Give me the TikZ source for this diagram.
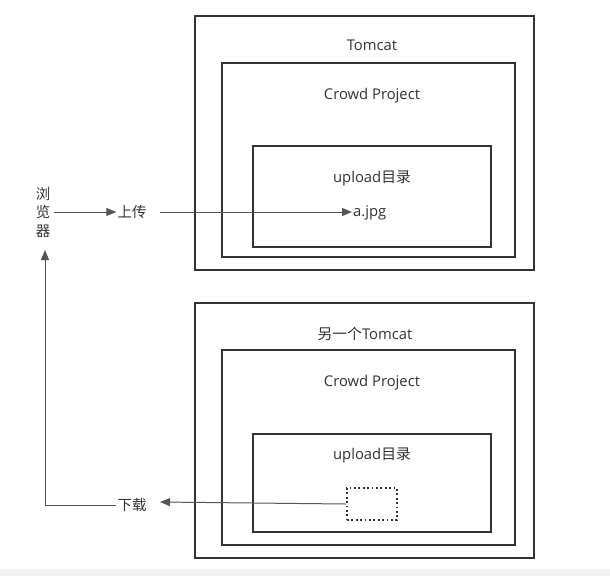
\documentclass[tikz,border=0pt]{standalone}
\usepackage{fontspec}
\setmainfont{Open Sans}
\newfontfamily\cjk{Noto Sans CJK SC}
\usetikzlibrary{arrows.meta}
\definecolor{boxc}{HTML}{333333}
\definecolor{linec}{HTML}{555555}
\definecolor{txtc}{HTML}{333333}
\definecolor{strip}{HTML}{F2F2F2}
\tikzset{
  frame/.style={draw=boxc, line width=1.6pt},
  lbl/.style={text=txtc, font=\fontsize{14.8}{16}\selectfont, inner sep=1pt},
  cjklbl/.style={lbl, font=\cjk\fontsize{14.5}{16}\selectfont},
  conn/.style={draw=linec, line width=1pt},
  arr/.style={conn, -{Triangle[length=10pt,width=8pt]}},
  dotbox/.style={draw=boxc, line width=1.8pt, dash pattern=on 1.8pt off 2.6pt},
}
\begin{document}
\begin{tikzpicture}[x=1pt,y=-1pt]
\useasboundingbox (0,0) rectangle (610,576);
\fill[white] (0,0) rectangle (610,569);
\fill[strip] (0,569) rectangle (610,576);
% top group
\draw[frame] (195,16) rectangle (534,270);
\draw[frame] (222,63) rectangle (515,257);
\draw[frame] (253,146) rectangle (491,247);
\node[lbl] (t1) at (372,45) {Tomcat};
\node[lbl] (c1) at (372,96) {Crowd Project};
\node[lbl] (u1) at (372,178) {upload{\cjk 目录}};
\node[lbl, anchor=west] (ajpg) at (352,213) {a.jpg};
% bottom group
\draw[frame] (195,303) rectangle (534,558);
\draw[frame] (222,350) rectangle (515,545);
\draw[frame] (253,434) rectangle (491,532);
\node[lbl] (t2) at (365,334) {{\cjk 另一个}Tomcat};
\node[lbl] (c2) at (372,383) {Crowd Project};
\node[lbl] (u2) at (372,455) {upload{\cjk 目录}};
\node[dotbox, minimum width=50pt, minimum height=32pt, inner sep=0pt] (dot) at (372,504) {};
% left side
\node[lbl, align=center, font=\cjk\fontsize{14.5}{18.5}\selectfont] (br) at (43,212) {浏\\览\\器};
\node[cjklbl] (up) at (132,212) {上传};
\node[cjklbl] (down) at (132,505) {下载};
\coordinate (corner) at (45,505);
\draw[arr] (54,212) -- (up.west);
\draw[arr] (160,212) -- (ajpg.west |- 0,212);
\draw[arr] (dot.west) -- (160,502);
\draw[arr] (down.west) -- (corner) -- (45,250);
\end{tikzpicture}
\end{document}
